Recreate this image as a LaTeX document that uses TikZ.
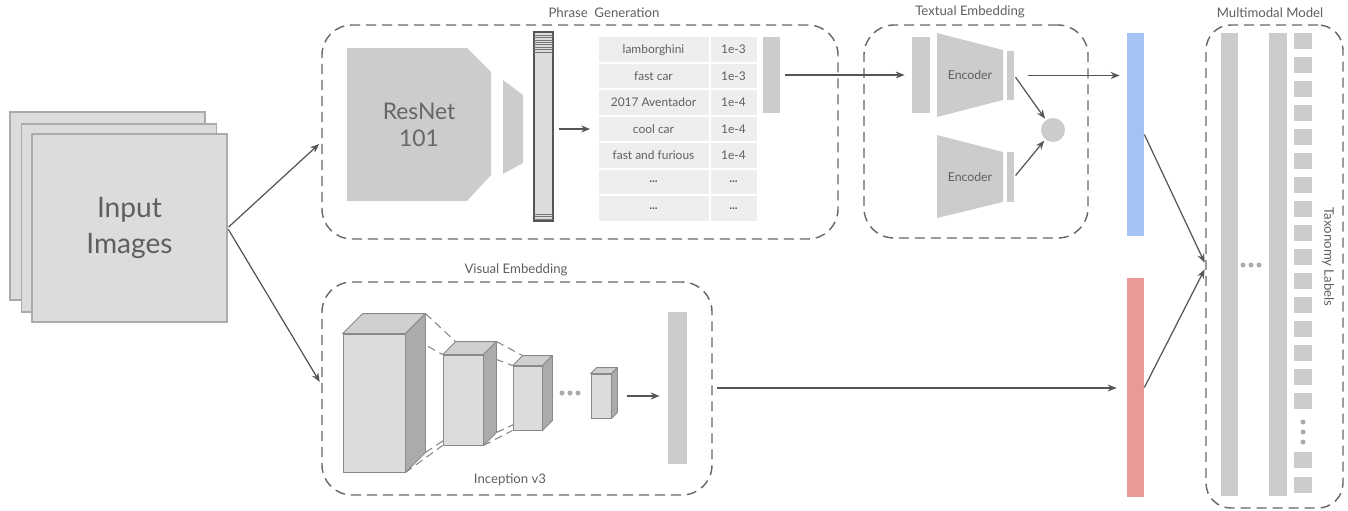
\documentclass[tikz,border=0pt]{standalone}
\usepackage{fontspec}
\setmainfont{Lato}
\usetikzlibrary{positioning,arrows.meta,calc,backgrounds}
\definecolor{diaink}{HTML}{5F5F5F}
\definecolor{diaedge}{HTML}{666666}
\definecolor{diaarrow}{HTML}{555555}
\definecolor{diablock}{HTML}{CCCCCC}
\definecolor{diapale}{HTML}{DCDCDC}
\definecolor{diacell}{HTML}{EEEEEE}
\definecolor{diaside}{HTML}{ABABAB}
\definecolor{diatop}{HTML}{D0D0D0}
\definecolor{diablue}{HTML}{A4C2F4}
\definecolor{diared}{HTML}{EA9999}
\newcommand{\etc}{\textbf{...}}
% a 3-D block: front face is node #1, depth #2 (px)
\newcommand{\cnnblock}[2]{%
  \filldraw[draw=diaside!80!black, fill=diatop, line width=0.5pt, line join=round]
    (#1.north west) -- ++(#2,-#2) -- ($(#1.north east)+(#2,-#2)$) -- (#1.north east) -- cycle;
  \filldraw[draw=diaside!80!black, fill=diaside, line width=0.5pt, line join=round]
    (#1.north east) -- ++(#2,-#2) -- ($(#1.south east)+(#2,-#2)$) -- (#1.south east) -- cycle;}

\begin{document}
\begin{tikzpicture}[x=0.2mm, y=-0.2mm, font=\fontsize{7.5}{9}\selectfont, text=diaink,
  grp/.style={draw=diaedge, line width=0.8pt, dash pattern=on 2mm off 1.2mm, rounded corners=6mm, inner sep=0pt},
  grplbl/.style={inner sep=1pt, font=\fontsize{7.5}{9}\selectfont},
  img/.style={draw=diaside, fill=diapale, line width=0.6pt, minimum width=39mm, minimum height=37.6mm, inner sep=0pt},
  blk/.style={fill=diablock, inner sep=0pt},
  cellw/.style={fill=diacell, inner sep=0pt, minimum width=22mm, minimum height=4.9mm, font=\fontsize{6.8}{8}\selectfont},
  cellp/.style={fill=diacell, inner sep=0pt, minimum width=9.2mm, minimum height=4.9mm, font=\fontsize{6.8}{8}\selectfont},
  cube/.style={draw=diaside!80!black, fill=diapale, line width=0.5pt, inner sep=0pt},
  link/.style={draw=diaedge!80, line width=0.6pt, dash pattern=on 1.6mm off 1mm},
  tick/.style={fill=diablock, inner sep=0pt, minimum width=3.6mm, minimum height=3.2mm},
  flow/.style={-{Stealth[length=1.8mm,width=1.4mm]}, draw=diaarrow, line width=0.7pt}]
\useasboundingbox (0,0) rectangle (1348,510);
% ===== input images =====
\node[img] (img1) at (107.5,206) {};
\node[img] (img2) at (119,218) {};
\node[img, align=center, font=\fontsize{16}{20}\selectfont] (img3) at (129.5,228) {Input\\Images};
% ===== phrase generation =====
\node[grp, minimum width=103.2mm, minimum height=42.8mm] (phrase) at (580,132) {};
\node[grplbl] (phraselbl) at (604,13) {Phrase\ \ Generation};
\fill[diablock] (347,48) -- (467,48) -- (491,72) -- (491,175) -- (467,201) -- (347,201) -- cycle;
\fill[diablock] (503,80) -- (523,95) -- (523,163) -- (503,174) -- cycle;
\node[align=center, font=\fontsize{13}{15.5}\selectfont, text=diaedge] (resnet) at (419,125) {ResNet\\101};
\node[draw=diaarrow, fill=diapale, line width=0.6pt, inner sep=0pt, minimum width=3.8mm, minimum height=37.8mm] (fvec) at (543.5,126.5) {};
\foreach \k in {0,...,7}
  \draw[diaarrow!80, line width=0.3pt] (534,{35+2.4*\k}) -- (553,{35+2.4*\k});
\foreach \k in {0,1,2}
  \draw[diaarrow!80, line width=0.3pt] (534,{214+2.4*\k}) -- (553,{214+2.4*\k});
\foreach \w/\p [count=\i] in {lamborghini/1e-3, fast car/1e-3, 2017 Aventador/1e-4, cool car/1e-4, fast and furious/1e-4, \etc/\etc, \etc/\etc}{
  \node[cellw] (w\i) at (653.5,{37+(\i-1)*26.43+12.7}) {\w};
  \node[cellp] (p\i) at (733.5,{37+(\i-1)*26.43+12.7}) {\p};
}
\node[blk, minimum width=3.4mm, minimum height=15.2mm] (pvec) at (771.5,75) {};
\draw[flow, shorten <=1mm, shorten >=1.6mm] (w4.west -| fvec.east) -- (w4.west);
% ===== textual embedding =====
\node[grp, minimum width=44.8mm, minimum height=42.6mm] (textual) at (976,131.5) {};
\node[grplbl] (textuallbl) at (970,12) {Textual Embedding};
\node[blk, minimum width=3.6mm, minimum height=15.2mm] (tvec) at (921,75) {};
\fill[diablock] (937,33) -- (1003,50) -- (1003,100) -- (937,117) -- cycle;
\fill[diablock] (937,135) -- (1003,152) -- (1003,202) -- (937,218) -- cycle;
\node[font=\fontsize{7}{8}\selectfont] (enc1) at (970,75) {Encoder};
\node[font=\fontsize{7}{8}\selectfont] (enc2) at (970,177) {Encoder};
\node[blk, minimum width=1.4mm, minimum height=9.8mm] (ebar1) at (1010.5,75.5) {};
\node[blk, minimum width=1.4mm, minimum height=10mm] (ebar2) at (1010.5,177) {};
\node[circle, fill=diablock, inner sep=0pt, minimum size=4.8mm] (merge) at (1053,130) {};
\draw[flow, shorten >=1.4mm, shorten <=1mm] (pvec.east) -- (pvec.east -| tvec.west);
\draw[flow, shorten <=0.4mm, shorten >=0.3mm] (ebar1.east) -- (merge);
\draw[flow, shorten <=0.4mm, shorten >=0.3mm] (ebar2.east) -- (merge);
% ===== embeddings =====
\node[fill=diablue, inner sep=0pt, minimum width=3.4mm, minimum height=40.6mm] (blue) at (1135.5,134.5) {};
\node[fill=diared, inner sep=0pt, minimum width=3.4mm, minimum height=43.8mm] (red) at (1135.5,387.5) {};
\draw[flow, shorten <=2.8mm, shorten >=1.4mm] (ebar1.east) -- (ebar1.east -| blue.west);
% ===== visual embedding =====
\node[grp, minimum width=78mm, minimum height=42.6mm] (visual) at (517,388.5) {};
\node[grplbl] (visuallbl) at (516,270) {Visual Embedding};
\node (inception) at (510,480) {Inception v3};
\node[cube, minimum width=12.4mm, minimum height=27.6mm] (cb1) at (374,403) {};
\cnnblock{cb1}{20}
\node[cube, minimum width=8mm, minimum height=18mm] (cb2) at (463,400) {};
\cnnblock{cb2}{13}
\node[cube, minimum width=5.8mm, minimum height=12.8mm] (cb3) at (527.5,398) {};
\cnnblock{cb3}{10}
\node[cube, minimum width=4mm, minimum height=8.8mm] (cb4) at (601,396) {};
\cnnblock{cb4}{6}
\begin{scope}[on background layer]
\draw[link] ($(cb1.north east)+(20,-20)$) -- ($(cb2.north west)+(13,-13)$);
\draw[link] (cb1.north east) -- (cb2.north west);
\draw[link] (cb1.south east) -- (cb2.south west);
\draw[link] ($(cb1.south east)+(20,-20)$) -- ($(cb2.south west)+(13,-13)$);
\draw[link] ($(cb2.north east)+(13,-13)$) -- ($(cb3.north west)+(10,-10)$);
\draw[link] (cb2.north east) -- (cb3.north west);
\draw[link] (cb2.south east) -- (cb3.south west);
\draw[link] ($(cb2.south east)+(13,-13)$) -- ($(cb3.south west)+(10,-10)$);
\end{scope}
\foreach \x in {562,570,578}
  \fill[diaside] (\x,393) circle (0.5mm);
\node[blk, minimum width=3.8mm, minimum height=30.4mm] (vvec) at (677.5,388) {};
\draw[flow, shorten <=3.2mm, shorten >=1.6mm] (cb4.east) -- (cb4.east -| vvec.west);
\draw[flow, shorten <=6mm, shorten >=2mm] (vvec.east) -- (vvec.east -| red.west);
% ===== multimodal model =====
\node[grp, rounded corners=5mm, minimum width=27.4mm, minimum height=96.6mm] (mm) at (1274.5,266.5) {};
\node[grplbl] (mmlbl) at (1270,13) {Multimodal Model};
\node[blk, minimum width=3.4mm, minimum height=92.6mm] (mbar1) at (1229.5,264.5) {};
\node[blk, minimum width=3.6mm, minimum height=92.6mm] (mbar2) at (1278,264.5) {};
\foreach \k in {0,...,15}
  \node[tick] (sq\k) at (1303,{41+24*\k}) {};
\node[tick] (sqa) at (1303,460) {};
\node[tick] (sqb) at (1303,485) {};
\foreach \y in {422,432,442}
  \fill[diaside] (1303,\y) circle (0.5mm);
\foreach \x in {1243,1251,1259}
  \fill[diaside] (\x,265) circle (0.5mm);
\node[rotate=-90] (taxlbl) at (1328,257) {Taxonomy Labels};
\draw[flow, shorten >=0.3mm] (blue.east) -- ([yshift=0.5mm]mm.west);
\draw[flow, shorten >=0.3mm] (red.east) -- ([yshift=-0.3mm]mm.west);
% ===== input arrows =====
\draw[flow, shorten <=0.3mm, shorten >=0.6mm] (img3.east) -- ([yshift=-2mm]phrase.west);
\draw[flow, shorten <=0.3mm, shorten >=0.6mm] (img3.east) -- ([yshift=0.8mm]visual.west);
\end{tikzpicture}
\end{document}
